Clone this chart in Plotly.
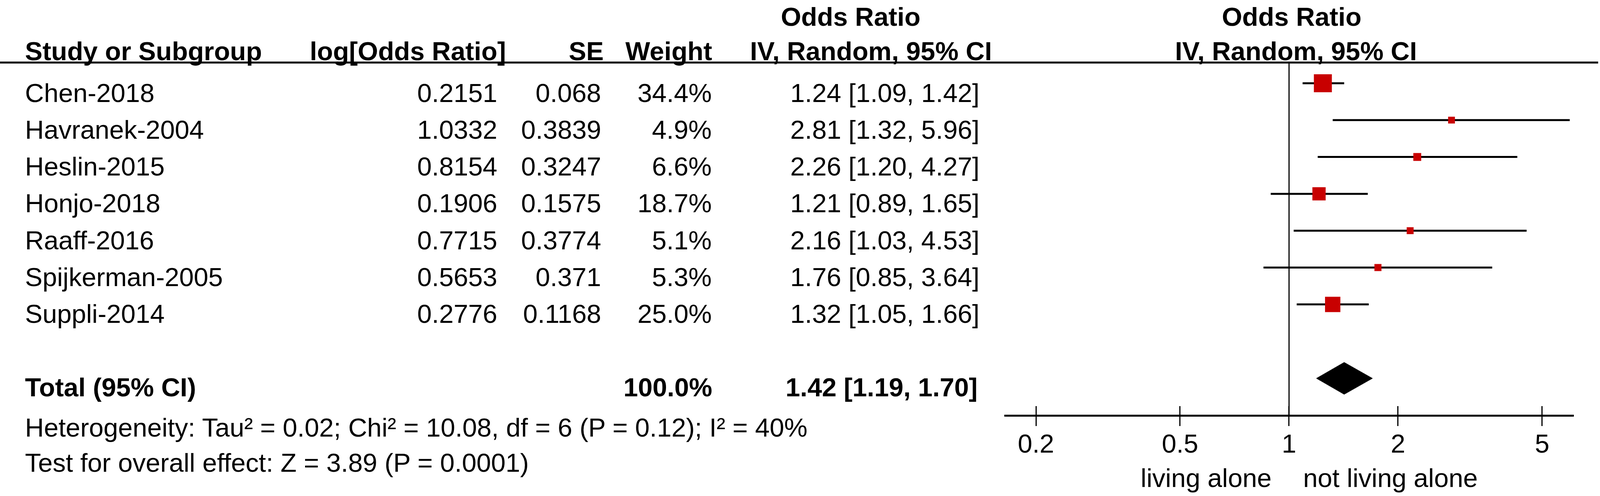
import numpy as np
import plotly.graph_objects as go

studies = ['Chen-2018', 'Havranek-2004', 'Heslin-2015', 'Honjo-2018',
           'Raaff-2016', 'Spijkerman-2005', 'Suppli-2014']
log_or = [0.2151, 1.0332, 0.8154, 0.1906, 0.7715, 0.5653, 0.2776]
se = [0.068, 0.3839, 0.3247, 0.1575, 0.3774, 0.371, 0.1168]
weight = [34.4, 4.9, 6.6, 18.7, 5.1, 5.3, 25.0]
odds = [1.24, 2.81, 2.26, 1.21, 2.16, 1.76, 1.32]
ci_low = [1.09, 1.32, 1.20, 0.89, 1.03, 0.85, 1.05]
ci_high = [1.42, 5.96, 4.27, 1.65, 4.53, 3.64, 1.66]

total_or = 1.42
total_low = 1.19
total_high = 1.70
total_weight = 100.0

het_text = 'Heterogeneity: Tau² = 0.02; Chi² = 10.08, df = 6 (P = 0.12); I² = 40%'
effect_text = 'Test for overall effect: Z = 3.89 (P = 0.0001)'
left_label = 'living alone'
right_label = 'not living alone'

tick_vals = [0.2, 0.5, 1, 2, 5]
tick_text = ['0.2', '0.5', '1', '2', '5']

# positions are given in reference pixels (4317 wide) and turned into paper
# fractions, so the figure can simply fill whatever width the page has
W, H = 4317, 1269
FONT = 'Liberation Sans, Arial, sans-serif'
FS = 67
ROW0, ROW_H, TXT_OFF = 213, 94.3, 24
rows = [ROW0 + i * ROW_H for i in range(len(studies))]
Y_TOTAL = 968
Y_AXIS = 1063
Y_HEAD1, Y_HEAD2, Y_RULE = 42, 130, 160
RED = '#C80000'


def p(x):
    return x / W


fig = go.Figure()

# line of no effect
fig.add_trace(go.Scatter(x=[1, 1], y=[Y_RULE, Y_AXIS], mode='lines',
                         line=dict(color='black', width=3), hoverinfo='skip'))

# confidence intervals
cx, cy = [], []
for lo, hi, y in zip(ci_low, ci_high, rows):
    cx += [lo, hi, None]
    cy += [y, y, None]
fig.add_trace(go.Scatter(x=cx, y=cy, mode='lines',
                         line=dict(color='black', width=5), hoverinfo='skip'))

# study weights as squares
fig.add_trace(go.Scatter(x=odds, y=rows, mode='markers',
                         marker=dict(symbol='square', color=RED, opacity=1,
                                     size=[7.85 * np.sqrt(w) for w in weight],
                                     line=dict(width=0)),
                         text=studies, hoverinfo='text+x'))

# pooled diamond
dh = 41
fig.add_trace(go.Scatter(x=[total_low, total_or, total_high, total_or, total_low],
                         y=[Y_TOTAL, Y_TOTAL - dh, Y_TOTAL, Y_TOTAL + dh, Y_TOTAL],
                         mode='lines', fill='toself', fillcolor='black',
                         line=dict(color='black', width=1), hoverinfo='skip'))

# dummy trace so the overlay axis (upward ticks) is drawn
fig.add_trace(go.Scatter(x=[1], y=[-100], xaxis='x2', mode='markers',
                         marker=dict(opacity=0), hoverinfo='skip'))


def add_text(txt, x, y, anchor='left', bold=False):
    fig.add_annotation(text='<b>%s</b>' % txt if bold else txt,
                       x=p(x), y=y, xref='paper', yref='y',
                       xanchor=anchor, yanchor='middle', showarrow=False,
                       font=dict(family=FONT, size=FS, color='black'))


# headers
add_text('Study or Subgroup', 65, Y_HEAD2, 'left', True)
add_text('log[Odds Ratio]', 1367, Y_HEAD2, 'right', True)
add_text('SE', 1630, Y_HEAD2, 'right', True)
add_text('Weight', 1923, Y_HEAD2, 'right', True)
add_text('Odds Ratio', 2295, Y_HEAD1, 'center', True)
add_text('IV, Random, 95% CI', 2678, Y_HEAD2, 'right', True)
add_text('Odds Ratio', 3485, Y_HEAD1, 'center', True)
add_text('IV, Random, 95% CI', 3497, Y_HEAD2, 'center', True)

# study rows
for i, name in enumerate(studies):
    y = rows[i] + TXT_OFF
    add_text(name, 65, y, 'left')
    add_text(str(log_or[i]), 1344, y, 'right')
    add_text(str(se[i]), 1624, y, 'right')
    add_text('%.1f%%' % weight[i], 1922, y, 'right')
    add_text('%.2f [%.2f, %.2f]' % (odds[i], ci_low[i], ci_high[i]), 2644, y, 'right')

# total row
y = Y_TOTAL + 22
add_text('Total (95% CI)', 65, y, 'left', True)
add_text('%.1f%%' % total_weight, 1923, y, 'right', True)
add_text('%.2f [%.2f, %.2f]' % (total_or, total_low, total_high), 2640, y, 'right', True)

add_text(het_text, 65, 1093, 'left')
add_text(effect_text, 65, 1183, 'left')

# favours labels
add_text(left_label, 3433, 1222, 'right')
add_text(right_label, 3514, 1222, 'left')

# rule under the headers
fig.add_shape(type='line', xref='paper', yref='y', x0=0, x1=p(4312),
              y0=Y_RULE, y1=Y_RULE, line=dict(color='black', width=5))

xr = [-0.7861, 0.7861]
dom = [p(2710), p(4246)]
axis_pos = (H - Y_AXIS) / H

fig.update_layout(
    autosize=True, height=H,
    margin=dict(l=0, r=0, t=0, b=0),
    paper_bgcolor='white', plot_bgcolor='white',
    showlegend=False,
    font=dict(family=FONT, size=FS, color='black'),
    xaxis=dict(type='log', range=xr, domain=dom, anchor='free', position=axis_pos,
               showline=True, linecolor='black', linewidth=5,
               ticks='outside', ticklen=24, tickwidth=3, tickcolor='black',
               tickvals=tick_vals, ticktext=tick_text, ticklabelstandoff=-12,
               tickfont=dict(family=FONT, size=FS, color='black'),
               showgrid=False, zeroline=False, fixedrange=True),
    xaxis2=dict(type='log', range=xr, domain=dom, overlaying='x', anchor='free',
                position=axis_pos, showline=False,
                ticks='inside', ticklen=24, tickwidth=3, tickcolor='black',
                tickvals=tick_vals, showticklabels=False,
                showgrid=False, zeroline=False, fixedrange=True),
    yaxis=dict(range=[H, 0], domain=[0, 1], visible=False, fixedrange=True),
)

fig.write_html('out.html', default_width='100%',
               config={'displayModeBar': False},
               post_script="document.body.style.margin='0px';"
                           "Plotly.Plots.resize(document.getElementById('{plot_id}'));")
